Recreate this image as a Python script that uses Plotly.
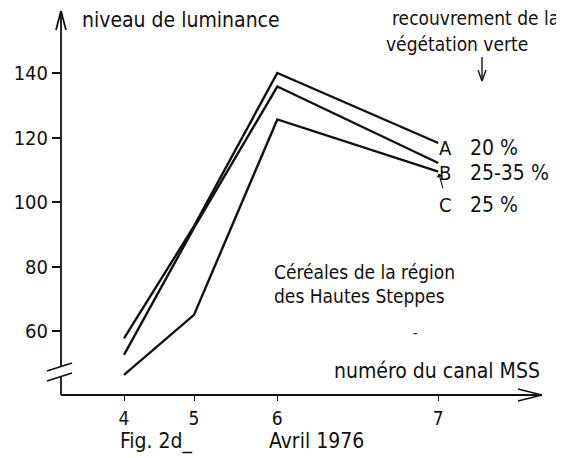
import plotly.graph_objects as go

# ---- data ----
channels = ["4", "5", "6", "7"]            # MSS channel numbers (tick labels)
channel_pos = [4.0, 5.0, 6.19, 8.49]       # position of each channel on the drawn axis
serie_A = [57.7, 92.5, 140.0, 118.3]
serie_B = [52.6, 92.0, 135.8, 112.1]
serie_C = [46.4, 65.0, 125.6, 109.4]
y_ticks = [60, 80, 100, 120, 140]
series_names = ["A", "B", "C"]
series_cover = ["20 %", "25-35 %", "25 %"]

# ---- geometry, in pixels of the 564x458 page (body has an 8px margin) ----
OFF = 8
W, H = 564 - OFF, 458 - OFF
X0, X1, Y0, Y1 = 61, 545, 10, 395          # plot area in page pixels
L, R, T, B = X0 - OFF, W - (X1 - OFF), Y0 - OFF, H - (Y1 - OFF)
PW, PH = X1 - X0, Y1 - Y0


def px(x):
    return (x - X0) / PW


def py(y):
    return (Y1 - y) / PH


FONT = "DejaVu Sans Condensed, Liberation Sans Narrow, Roboto, sans-serif"
INK = "#111111"

fig = go.Figure()
for name, vals in zip(series_names, [serie_A, serie_B, serie_C]):
    fig.add_trace(go.Scatter(x=channel_pos, y=vals, mode="lines", name=name,
                             line=dict(color=INK, width=2.4), showlegend=False,
                             hoverinfo="skip"))

shapes = []


def seg(x0, y0, x1, y1, w=1.8, dash="solid"):
    shapes.append(dict(type="line", xref="paper", yref="paper",
                       x0=px(x0), y0=py(y0), x1=px(x1), y1=py(y1),
                       line=dict(color=INK, width=w, dash=dash)))


# y axis with break
seg(61, 395, 61, 377)
seg(61, 366, 61, 12)
seg(47, 371, 72, 363)
seg(47, 381, 72, 373)
# y arrow head
seg(56, 30, 61, 11)
seg(61, 11, 66, 30)
# x axis
seg(61, 395, 541, 395)
seg(518, 389, 542, 395)
seg(518, 401, 542, 395)
# down arrow under the legend title
seg(482, 57, 482, 80, 1.4)
seg(478, 70, 482, 81, 1.4)
seg(486, 70, 482, 81, 1.4)

ann = []


def text(x, y, s, size=20, anchor="left"):
    ann.append(dict(xref="paper", yref="paper", x=px(x), y=py(y), text=s,
                    showarrow=False, xanchor=anchor, yanchor="middle",
                    font=dict(family=FONT, size=size, color=INK)))


text(80, 20, "niveau de luminance", 21)
text(390, 18, "recouvrement de la", 19)
text(384, 44, "végétation verte", 19)
for name, cover, ypix in zip(series_names, series_cover, [148, 173, 205]):
    text(445, ypix, name, 20, "center")
    text(468, ypix, cover, 21)
text(272, 272, "Céréales de la région", 19)
text(272, 296, "des Hautes Steppes", 19)
text(415, 333, "-", 14, "center")
text(332, 371, "numéro du canal MSS", 21)
text(118, 441, "Fig. 2d_", 21)
text(267, 441, "Avril 1976", 21)

# small arrow from C label to its line
ann.append(dict(xref="x", yref="y", x=channel_pos[3], y=serie_C[3], ax=5, ay=18,
                axref="pixel", ayref="pixel", showarrow=True, arrowhead=1,
                arrowsize=1, arrowwidth=1.1, arrowcolor=INK, text="", standoff=2))

fig.update_layout(
    width=W, height=H,
    margin=dict(l=L, r=R, t=T, b=B),
    paper_bgcolor="white", plot_bgcolor="white",
    shapes=shapes, annotations=ann,
    xaxis=dict(range=[4 - (124 - X0) / 70, 4 + (X1 - 124) / 70],
               tickvals=channel_pos, ticktext=channels,
               ticks="outside", ticklen=5, tickwidth=1.2, tickcolor=INK,
               showgrid=False, zeroline=False, showline=False,
               tickfont=dict(family=FONT, size=19, color=INK),
               ticklabelstandoff=1),
    yaxis=dict(range=[60 - (Y1 - 331) / 3.225, 140 + (73 - Y0) / 3.225],
               tickvals=y_ticks,
               ticks="outside", ticklen=8, tickwidth=1.5, tickcolor=INK,
               showgrid=False, zeroline=False, showline=False,
               tickfont=dict(family=FONT, size=20, color=INK)),
)

fig.write_html("out.html")
